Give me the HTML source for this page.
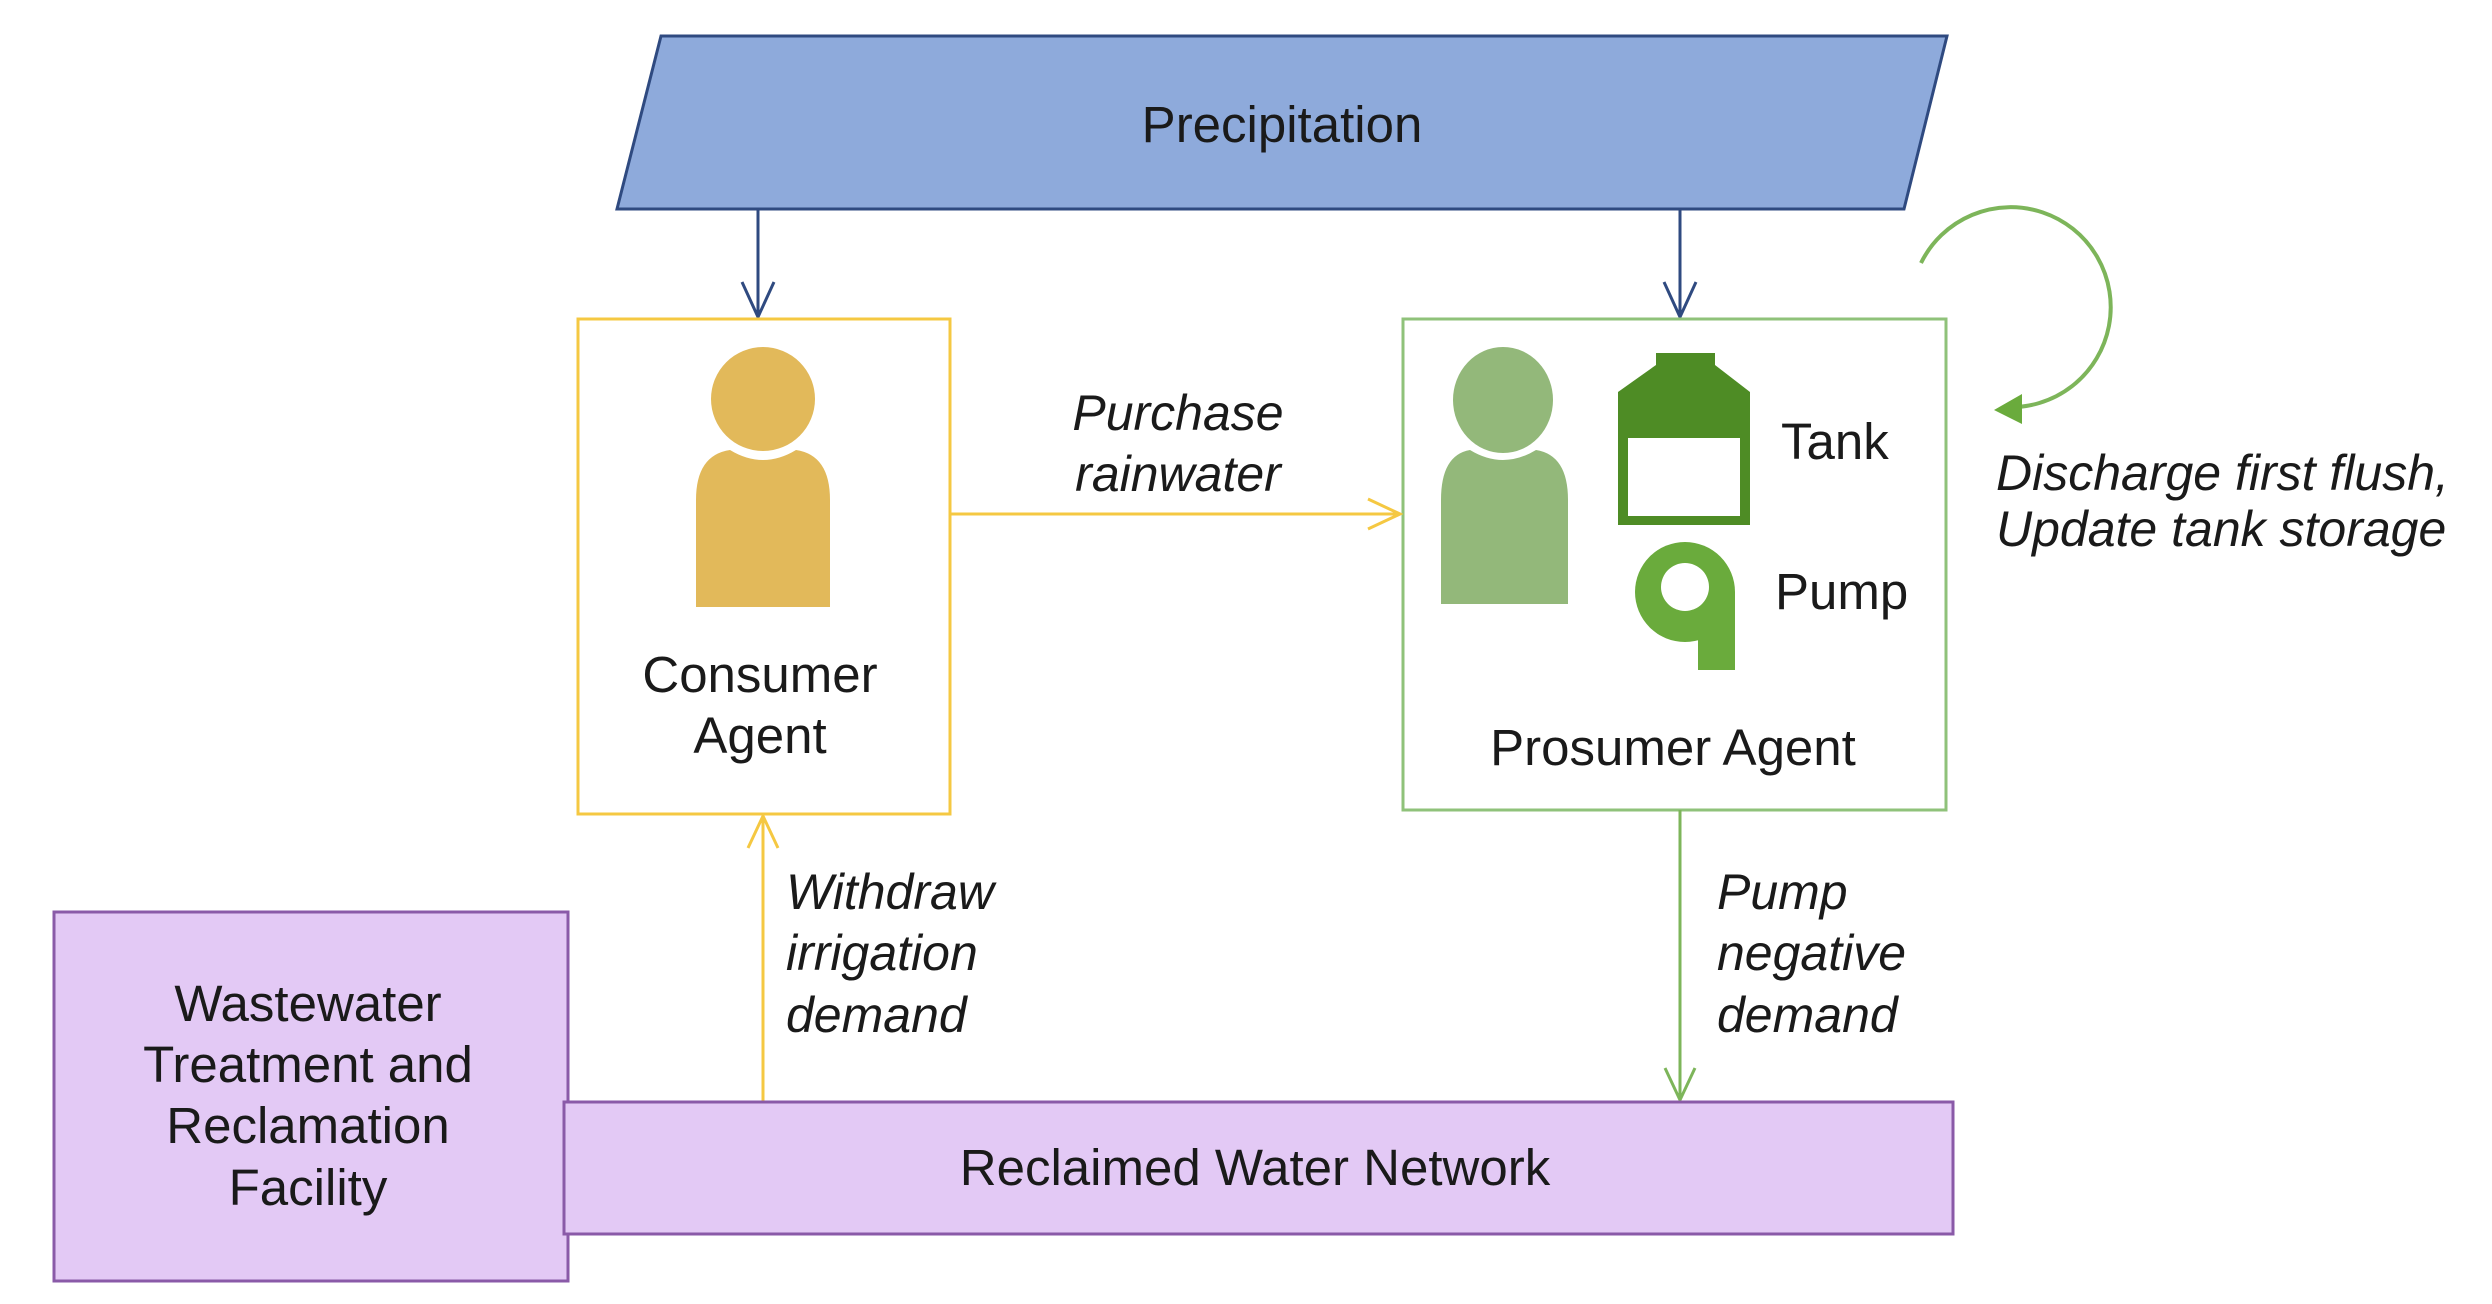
<!DOCTYPE html>
<html><head><meta charset="utf-8"><style>
html,body{margin:0;padding:0;background:#fff;}
svg{display:block;}
text{font-family:"Liberation Sans",Arial,sans-serif;fill:#1a1a1a;}
.i{font-style:italic;}
</style></head><body>
<svg width="2492" height="1304" viewBox="0 0 2492 1304" xmlns="http://www.w3.org/2000/svg">
<!-- Precipitation -->
<polygon points="661,36 1947,36 1904,209 617,209" fill="#8eaadb" stroke="#2f4a80" stroke-width="3"/>
<text x="1282" y="142" font-size="51" text-anchor="middle">Precipitation</text>
<!-- blue arrows -->
<g stroke="#2f4a80" stroke-width="3" fill="none">
<line x1="758" y1="209" x2="758" y2="317"/>
<polyline points="742,282 758,317 774,282"/>
<line x1="1680" y1="209" x2="1680" y2="317"/>
<polyline points="1664,282 1680,317 1696,282"/>
</g>
<!-- Consumer box -->
<rect x="578" y="319" width="372" height="495" fill="#fff" stroke="#f5c842" stroke-width="3"/>
<circle cx="763" cy="399" r="52" fill="#e2b95a"/>
<path d="M696,607 L696,500 Q696,455 730,450 Q763,470 796,450 Q830,455 830,500 L830,607 Z" fill="#e2b95a"/>
<text x="760" y="692" font-size="51" text-anchor="middle">Consumer</text>
<text x="760" y="753" font-size="51" text-anchor="middle">Agent</text>
<!-- Prosumer box -->
<rect x="1403" y="319" width="543" height="491" fill="#fff" stroke="#8fc27a" stroke-width="3"/>
<ellipse cx="1503" cy="400" rx="50" ry="53" fill="#93b87a"/>
<path d="M1441,604 L1441,500 Q1441,455 1470,450 Q1503,470 1536,450 Q1568,455 1568,500 L1568,604 Z" fill="#93b87a"/>
<!-- tank -->
<path d="M1656,353 L1715,353 L1715,365 L1750,392 L1750,525 L1618,525 L1618,392 L1656,365 Z" fill="#4e8c25"/>
<rect x="1628" y="438" width="112" height="78" fill="#fff"/>
<text x="1781" y="459" font-size="51">Tank</text>
<!-- pump -->
<circle cx="1685" cy="592" r="50" fill="#6aab3c"/>
<rect x="1698" y="592" width="37" height="78" fill="#6aab3c"/>
<circle cx="1685" cy="587" r="24" fill="#fff"/>
<text x="1775" y="609" font-size="51">Pump</text>
<text x="1673" y="765" font-size="51" text-anchor="middle">Prosumer Agent</text>
<!-- loop arrow -->
<path d="M1921,263 A100,100 0 1 1 2005,407" fill="none" stroke="#7db55a" stroke-width="4"/>
<polygon points="1994,410 2022,394 2022,424" fill="#6aab3c"/>
<text class="i" x="1996" y="490" font-size="50">Discharge first flush,</text>
<text class="i" x="1996" y="546" font-size="50">Update tank storage</text>
<!-- purchase arrow -->
<line x1="950" y1="514" x2="1400" y2="514" stroke="#f5c842" stroke-width="3"/>
<polyline points="1368,499 1400,514 1368,529" fill="none" stroke="#f5c842" stroke-width="3"/>
<text class="i" x="1178" y="430" font-size="50" text-anchor="middle">Purchase</text>
<text class="i" x="1178" y="491" font-size="50" text-anchor="middle">rainwater</text>
<!-- withdraw arrow -->
<line x1="763" y1="1102" x2="763" y2="816" stroke="#f5c842" stroke-width="3"/>
<polyline points="748,848 763,816 778,848" fill="none" stroke="#f5c842" stroke-width="3"/>
<text class="i" x="786" y="909" font-size="50">Withdraw</text>
<text class="i" x="786" y="970" font-size="50">irrigation</text>
<text class="i" x="786" y="1032" font-size="50">demand</text>
<!-- pump negative demand -->
<line x1="1680" y1="810" x2="1680" y2="1100" stroke="#7db55a" stroke-width="3"/>
<polyline points="1665,1068 1680,1100 1695,1068" fill="none" stroke="#7db55a" stroke-width="3"/>
<text class="i" x="1717" y="909" font-size="50">Pump</text>
<text class="i" x="1717" y="970" font-size="50">negative</text>
<text class="i" x="1717" y="1032" font-size="50">demand</text>
<!-- Wastewater -->
<rect x="54" y="912" width="514" height="369" fill="#e3c9f5" stroke="#8a5aa8" stroke-width="3"/>
<text x="308" y="1021" font-size="51" text-anchor="middle">Wastewater</text>
<text x="308" y="1082" font-size="51" text-anchor="middle">Treatment and</text>
<text x="308" y="1143" font-size="51" text-anchor="middle">Reclamation</text>
<text x="308" y="1205" font-size="51" text-anchor="middle">Facility</text>
<!-- Reclaimed -->
<rect x="564" y="1102" width="1389" height="132" fill="#e3c9f5" stroke="#8a5aa8" stroke-width="3"/>
<text x="1255" y="1185" font-size="51" text-anchor="middle">Reclaimed Water Network</text>
</svg>
</body></html>
